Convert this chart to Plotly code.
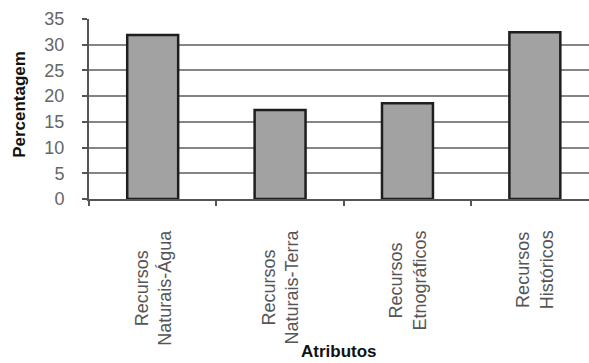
import plotly.graph_objects as go

# Attribute categories and their percentages
categories = [
    "Recursos<br>Naturais-Água",
    "Recursos<br>Naturais-Terra",
    "Recursos<br>Etnográficos",
    "Recursos<br>Históricos",
]
percentages = [31.9, 17.3, 18.6, 32.4]
y_ticks = [0, 5, 10, 15, 20, 25, 30, 35]

FONT = "Arial, Liberation Sans, sans-serif"

fig = go.Figure(
    go.Bar(
        x=categories,
        y=percentages,
        width=0.4,
        marker=dict(color="#a2a2a2", line=dict(color="#1e1e1e", width=2.5)),
    )
)

# Category labels, rotated and centred line by line
annotations = [
    dict(
        x=c, y=0, xref="x", yref="paper",
        text=c, textangle=-90, showarrow=False,
        xanchor="center", yanchor="top", yshift=-29, align="center",
        font=dict(family=FONT, size=18, color="#555555"),
    )
    for c in categories
]
annotations += [
    dict(
        x=0.5, y=0, xref="paper", yref="paper", text="<b>Atributos</b>",
        showarrow=False, xanchor="center", yanchor="middle", yshift=-152,
        font=dict(family=FONT, size=17, color="#111111"),
    ),
    dict(
        x=0, y=0.523, xref="paper", yref="paper", text="<b>Percentagem</b>",
        textangle=-90, showarrow=False, xanchor="center", yanchor="middle",
        xshift=-69, font=dict(family=FONT, size=17, color="#111111"),
    ),
]

fig.update_layout(
    width=589,
    height=363,
    margin=dict(l=89, r=0, t=19, b=164),
    paper_bgcolor="white",
    plot_bgcolor="white",
    showlegend=False,
    annotations=annotations,
    font=dict(family=FONT),
)
fig.update_xaxes(
    type="category",
    range=[-0.5, 3.425],
    tickson="boundaries",
    ticks="outside",
    ticklen=5,
    tickwidth=1.5,
    tickcolor="#555555",
    showticklabels=False,
    showgrid=False,
    showline=True,
    linecolor="#555555",
    linewidth=2,
    zeroline=False,
)
fig.update_yaxes(
    range=[0, 35],
    tickvals=y_ticks,
    ticks="outside",
    ticklen=5,
    tickwidth=1.5,
    tickcolor="#555555",
    ticklabelstandoff=14,
    tickfont=dict(family=FONT, size=18, color="#666666"),
    showgrid=True,
    gridcolor="#858585",
    gridwidth=1.6,
    showline=True,
    linecolor="#555555",
    linewidth=2,
    zeroline=False,
)

fig.write_html("out.html")
